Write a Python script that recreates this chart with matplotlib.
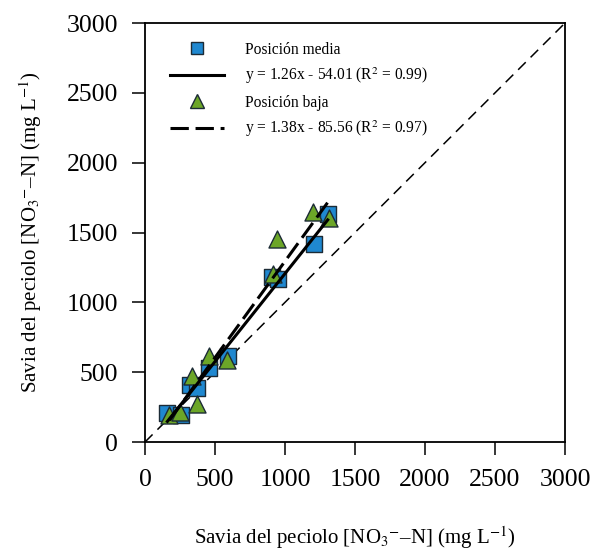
import matplotlib
matplotlib.use("Agg")

import matplotlib.pyplot as plt
from matplotlib.lines import Line2D
import numpy as np

plt.rcParams["font.family"] = "Liberation Serif"
plt.rcParams["mathtext.fontset"] = "stix"

# ── Data ──────────────────────────────────────────────────────────────
media_x = [160, 260, 320, 370, 460, 590, 910, 950, 1205, 1305]
media_y = [205, 190, 405, 385, 530, 615, 1180, 1165, 1415, 1630]
baja_x = [175, 250, 335, 370, 455, 585, 915, 945, 1200, 1315]
baja_y = [195, 215, 470, 275, 615, 590, 1200, 1455, 1650, 1605]

media_fit = (1.26, -54.01)
baja_fit = (1.38, -85.56)

ticks = [0, 500, 1000, 1500, 2000, 2500, 3000]
label_media = "Posición media"
label_baja = "Posición baja"
eq_media = "y = 1.26x - 54.01 (R$^2$ = 0.99)"
eq_baja = "y = 1.38x - 85.56 (R$^2$ = 0.97)"
axis_label = "Savia del peciolo [NO$_3$$^{-}$–N] (mg L$^{-1}$)"

col_media = "#1F88D0"
col_baja = "#6CA628"
edge = "#1C2B36"

fig = plt.figure(figsize=(5.94, 5.56), dpi=100)
ax = fig.add_axes([0.2441, 0.2050, 0.7071, 0.7536])

# 1:1 reference line
ax.plot([0, 3000], [0, 3000], color="black", lw=1.1,
        linestyle=(0, (7, 4.5)), zorder=1)

# ── Points ────────────────────────────────────────────────────────────
ax.scatter(media_x, media_y, marker="s", s=130, color=col_media,
           edgecolor=edge, linewidth=1.0, zorder=3)
ax.scatter(baja_x, baja_y, marker="^", s=150, color=col_baja,
           edgecolor=edge, linewidth=1.0, zorder=3)

# ── Regression lines ──────────────────────────────────────────────────
xm = np.array([min(media_x), max(media_x)])
ax.plot(xm, media_fit[0] * xm + media_fit[1], color="black", lw=2.2, zorder=4)
xb = np.array([min(baja_x), max(baja_x)])
ax.plot(xb, baja_fit[0] * xb + baja_fit[1], color="black", lw=2.2,
        linestyle=(0, (6, 2.2)), zorder=4)

# ── Legend ────────────────────────────────────────────────────────────
handles = [
    Line2D([], [], marker="s", color="none", markerfacecolor=col_media,
           markeredgecolor=edge, markersize=9),
    Line2D([], [], color="black", lw=2.2),
    Line2D([], [], marker="^", color="none", markerfacecolor=col_baja,
           markeredgecolor=edge, markersize=10),
    Line2D([], [], color="black", lw=2.2, linestyle=(0, (6, 2.2))),
]
ax.legend(handles, [label_media, eq_media, label_baja, eq_baja],
          loc="upper left", bbox_to_anchor=(0.03, 0.985),
          frameon=False, fontsize=11.2, handlelength=3.5,
          handletextpad=1.35, labelspacing=0.52, borderpad=0.3)

# ── Axes styling ──────────────────────────────────────────────────────
ax.set_xlim(0, 3000)
ax.set_ylim(0, 3000)
ax.set_xticks(ticks)
ax.set_yticks(ticks)
ax.tick_params(direction="out", length=9.5, width=1.1, pad=10,
               labelsize=18.5, colors="black")
for sp in ax.spines.values():
    sp.set_linewidth(1.3)

ax.set_xlabel(axis_label, fontsize=15, labelpad=24)
ax.set_ylabel(axis_label, fontsize=15, labelpad=16)

fig.savefig("out.png", dpi=100, facecolor="white")
